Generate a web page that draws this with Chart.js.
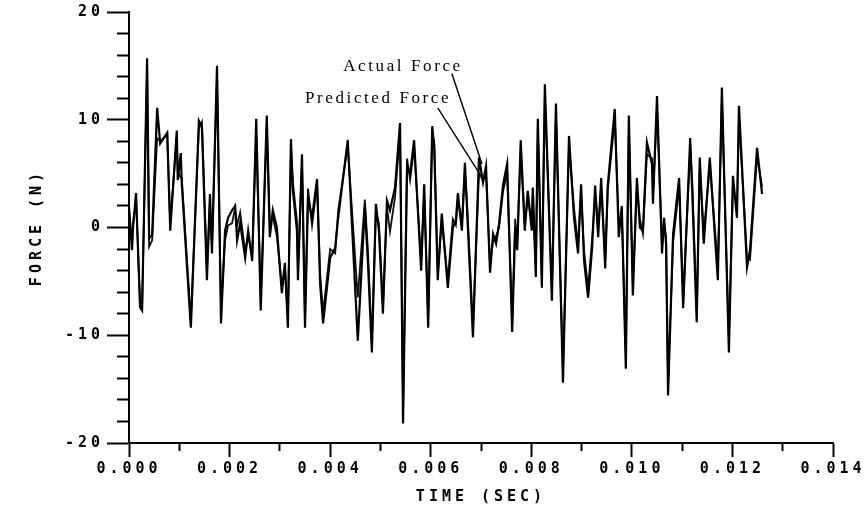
<!DOCTYPE html>
<html>
<head>
<meta charset="utf-8">
<script src="https://cdn.jsdelivr.net/npm/chart.js@4/dist/chart.umd.min.js"></script>
<style>
  html, body { margin: 0; padding: 0; background: #fff; }
  #wrap { width: 866px; height: 510px; }
</style>
</head>
<body>
<div id="wrap"><canvas id="forceChart"></canvas></div>
<script>
// time in milliseconds (x axis shows seconds)
var timeMs = [0.00,0.06,0.08,0.14,0.22,0.26,0.36,0.40,0.46,0.56,0.62,0.76,0.82,0.95,0.97,1.03,1.05,1.23,1.39,1.45,
  1.55,1.61,1.65,1.75,1.83,1.91,1.97,2.05,2.11,2.15,2.21,2.31,2.37,2.45,2.53,2.62,2.74,2.80,2.86,2.94,
  3.04,3.10,3.16,3.22,3.26,3.34,3.36,3.44,3.50,3.56,3.64,3.74,3.80,3.86,4.00,4.10,4.16,4.35,4.55,4.69,
  4.75,4.83,4.91,4.97,5.05,5.13,5.19,5.29,5.39,5.45,5.53,5.59,5.67,5.81,5.87,5.95,6.03,6.07,6.14,6.22,
  6.34,6.44,6.50,6.54,6.62,6.68,6.72,6.84,6.96,7.04,7.10,7.18,7.24,7.30,7.36,7.44,7.52,7.62,7.68,7.72,
  7.79,7.87,7.93,8.01,8.03,8.09,8.13,8.21,8.27,8.41,8.49,8.63,8.75,8.85,8.93,8.99,9.05,9.13,9.21,9.27,
  9.33,9.39,9.47,9.52,9.66,9.74,9.80,9.88,9.94,10.02,10.10,10.16,10.22,10.30,10.40,10.42,10.50,10.60,10.64,10.68,
  10.72,10.82,10.94,11.02,11.16,11.20,11.29,11.35,11.43,11.55,11.67,11.71,11.79,11.93,12.01,12.09,12.13,12.29,12.35,12.49,
  12.59];

var actualForce = [1.9,-2.1,0.0,3.2,-7.4,-7.7,15.7,-1.0,-0.7,11.1,7.8,8.8,-0.3,9.0,4.4,6.9,4.0,-9.3,9.9,9.3,
  -4.9,3.1,-2.4,15.0,-8.9,-0.3,0.9,1.6,2.0,-1.2,0.4,-2.8,-0.3,-3.1,10.1,-7.7,10.4,-0.9,1.6,0.0,
  -6.1,-3.3,-9.3,8.2,3.4,-0.3,-4.9,6.8,-9.3,2.8,0.9,4.5,-5.2,-8.9,-2.8,-1.9,0.9,8.1,-10.5,1.9,
  -3.1,-11.6,2.2,-0.3,-8.0,2.5,1.6,3.7,9.7,-18.2,5.7,5.0,8.1,-4.0,4.0,-9.3,9.4,7.4,-4.9,1.3,
  -5.6,0.0,0.6,3.2,-0.3,6.0,1.9,-10.2,6.5,4.2,5.7,-4.2,-0.6,-1.5,0.4,4.0,5.9,-9.7,0.0,-2.1,
  8.1,-0.3,3.4,-0.3,3.7,-4.6,10.1,-5.6,13.3,-6.8,11.5,-14.4,8.5,0.9,-2.4,4.0,-3.1,-6.5,-1.9,3.9,
  -0.9,4.6,-3.8,3.9,11.0,-0.9,2.0,-13.1,10.4,-6.3,4.6,0.0,-0.3,7.9,5.9,2.2,12.2,-2.4,0.9,-1.5,
  -15.6,-0.6,4.6,-7.5,8.3,3.4,-8.8,6.5,-1.5,6.5,-2.1,-4.9,13.0,-11.6,4.8,0.9,11.3,-3.7,-2.1,7.4,
  3.1];

var predictedForce = [1.6,-1.6,0.4,2.6,-7.0,-7.5,14.6,-1.8,-1.2,8.3,8.0,8.6,0.4,8.4,5.2,4.6,4.6,-8.6,9.2,9.8,
  -3.9,2.4,-1.6,13.8,-7.6,-1.2,0.2,0.4,1.8,0.2,1.4,-2.2,-0.8,-2.6,8.6,-6.6,9.4,0.4,1.0,-0.8,
  -5.4,-3.8,-8.6,7.2,4.2,0.6,-4.0,6.0,-8.4,3.6,0.2,4.0,-4.2,-7.9,-2.0,-2.4,1.6,7.6,-6.5,2.6,
  -2.0,-10.6,1.4,0.4,-7.2,1.9,-0.4,2.8,8.8,-16.8,6.4,4.4,7.4,-3.2,3.2,-8.4,8.6,8.0,-4.2,0.6,
  -4.8,0.8,0.2,2.6,0.4,5.2,2.6,-9.2,5.0,4.4,4.8,-3.4,-1.2,-0.8,0.0,3.4,5.0,-8.8,0.8,-1.4,
  7.2,0.4,2.6,0.6,3.0,-3.8,9.2,-4.6,12.2,-5.8,10.4,-13.2,7.6,1.8,-1.6,3.2,-2.2,-5.6,-1.0,3.0,
  0.2,3.6,-2.8,3.4,10.0,0.4,1.2,-11.8,9.4,-5.4,3.8,0.8,-0.6,6.8,6.4,3.0,11.0,-1.6,0.2,-0.8,
  -14.2,-1.4,3.8,-6.6,7.2,4.4,-7.8,5.6,-0.6,5.8,-1.2,-3.8,11.8,-10.4,4.0,1.8,10.2,-2.8,-3.0,6.6,
  3.8];

var xTickLabels = ['0.000','0.002','0.004','0.006','0.008','0.010','0.012','0.014'];
var yTickLabels = ['-20','-10','0','10','20'];
var seriesNames = ['Actual Force','Predicted Force'];

function pairs(xs, ys) {
  return xs.map(function (x, i) { return { x: x, y: ys[i] }; });
}

// callouts: label position and arrow, in data units (ms, N)
var callouts = [
  { text: seriesNames[0], tx: 4.26, ty: 14.9, ax: 6.42, ay: 14.3, bx: 7.02, by: 5.9 },
  { text: seriesNames[1], tx: 3.50, ty: 12.0, ax: 6.14, ay: 11.1, bx: 7.04, by: 4.5 }
];

var plotterFont = { family: '"DejaVu Sans Mono", monospace', size: 15, weight: 'bold' };

var spacingPlugin = {
  id: 'spacing',
  beforeDraw: function (chart) { chart.ctx.letterSpacing = '4px'; }
};

var calloutPlugin = {
  id: 'callouts',
  afterDraw: function (chart) {
    var ctx = chart.ctx, xs = chart.scales.x, ys = chart.scales.y;
    ctx.save();
    ctx.letterSpacing = '2.6px';
    ctx.fillStyle = '#000';
    ctx.strokeStyle = '#000';
    ctx.lineWidth = 1.4;
    ctx.font = '17px "Liberation Serif", serif';
    ctx.textBaseline = 'middle';
    callouts.forEach(function (c) {
      ctx.fillText(c.text, xs.getPixelForValue(c.tx), ys.getPixelForValue(c.ty));
      ctx.beginPath();
      ctx.moveTo(xs.getPixelForValue(c.ax), ys.getPixelForValue(c.ay));
      ctx.lineTo(xs.getPixelForValue(c.bx), ys.getPixelForValue(c.by));
      ctx.stroke();
    });
    ctx.restore();
  }
};

var ctx = document.getElementById('forceChart');
var forceChart = new Chart(ctx, {
  type: 'line',
  data: {
    datasets: [{
        label: seriesNames[0],
        data: pairs(timeMs, actualForce),
        borderColor: '#000',
        borderWidth: 2.2,
        pointRadius: 0,
        tension: 0,
        fill: false
      }, {
        label: seriesNames[1],
        data: pairs(timeMs, predictedForce),
        borderColor: '#111',
        borderWidth: 1.8,
        pointRadius: 0,
        tension: 0,
        fill: false
      }
    ]
  },
  options: {
    responsive: true,
    maintainAspectRatio: false,
    animation: false,
    layout: { padding: { top: 11, right: 33, left: 0, bottom: 0 } },
    plugins: {
      legend: { display: false },
      tooltip: { enabled: false }
    },
    scales: {
      x: {
        type: 'linear',
        min: 0,
        max: 14,
        afterFit: function (s) { s.height = 67; },
        border: { display: true, color: '#000', width: 2 },
        grid: {
          drawOnChartArea: false,
          tickLength: 14,
          tickColor: '#000',
          tickWidth: 2,
          tickBorderDash: function (c) { return (Math.round(c.tick.value) % 2) ? [7, 40] : []; }
        },
        ticks: {
          stepSize: 1,
          autoSkip: false,
          maxRotation: 0,
          padding: 3,
          color: '#000',
          font: plotterFont,
          callback: function (v) {
            var k = Math.round(v);
            return k % 2 ? '' : xTickLabels[k / 2];
          }
        },
        title: {
          display: true,
          text: 'TIME (SEC)',
          color: '#000',
          font: plotterFont,
          padding: { top: 0, bottom: 4 }
        }
      },
      y: {
        min: -20,
        max: 20,
        afterFit: function (s) { s.width = 129; },
        border: { display: true, color: '#000', width: 2 },
        grid: {
          drawOnChartArea: false,
          tickLength: 22,
          tickColor: '#000',
          tickWidth: 2,
          tickBorderDash: function (c) { return (Math.round(c.tick.value) % 10) ? [0, 10, 12, 40] : []; }
        },
        ticks: {
          stepSize: 2,
          autoSkip: false,
          padding: 3,
          color: '#000',
          font: plotterFont,
          callback: function (v) {
            var k = Math.round(v);
            return k % 10 ? '' : yTickLabels[(k + 20) / 10];
          }
        },
        title: {
          display: true,
          text: 'FORCE (N)',
          color: '#000',
          font: plotterFont,
          padding: { top: 28, bottom: 0 }
        }
      }
    }
  },
  plugins: [spacingPlugin, calloutPlugin]
});
</script>
</body>
</html>
